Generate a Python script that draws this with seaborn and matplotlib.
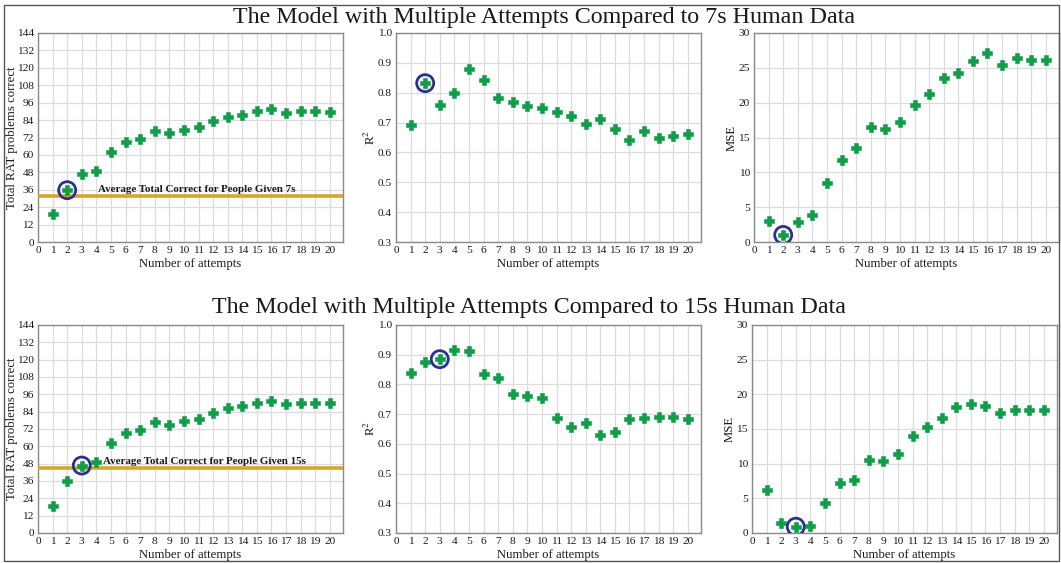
import matplotlib
matplotlib.use("Agg")
import matplotlib.pyplot as plt
import matplotlib.patches as mpatches
import pandas as pd
import seaborn as sns

# dados
attempts = list(range(1, 21))

total_correct = [19.0, 35.7, 46.7, 49.2, 62.1, 68.9, 71.0, 76.8, 74.8, 77.4,
                 79.2, 83.1, 86.2, 87.8, 90.0, 91.3, 89.2, 90.3, 90.0, 89.9]

r2_7s = [0.692, 0.832, 0.758, 0.798, 0.879, 0.844, 0.782, 0.770, 0.755, 0.748,
         0.734, 0.722, 0.695, 0.712, 0.678, 0.641, 0.672, 0.650, 0.655, 0.661]
mse_7s = [2.99, 1.01, 2.84, 3.85, 8.52, 11.75, 13.48, 16.47, 16.23, 17.29,
          19.6, 21.28, 23.59, 24.27, 25.95, 27.15, 25.42, 26.38, 26.19, 26.10]

r2_15s = [0.837, 0.876, 0.885, 0.915, 0.912, 0.834, 0.822, 0.768, 0.760, 0.753,
          0.686, 0.658, 0.670, 0.630, 0.641, 0.683, 0.688, 0.691, 0.689, 0.683]
mse_15s = [6.27, 1.44, 0.91, 1.0, 4.26, 7.27, 7.70, 10.57, 10.43, 11.39,
           13.92, 15.36, 16.65, 18.18, 18.66, 18.37, 17.32, 17.80, 17.70, 17.70]

human_avg = {"7s": 31.4, "15s": 45.3}
best_attempt = {"7s": 2, "15s": 3}

titles = ["The Model with Multiple Attempts Compared to 7s Human Data",
          "The Model with Multiple Attempts Compared to 15s Human Data"]

sns.set_style("whitegrid")
plt.rcParams['font.family'] = ['Liberation Serif', 'DejaVu Serif']
plt.rcParams['mathtext.fontset'] = 'stix'

GREEN = '#0f9d48'
NAVY = '#2b2f8f'
GOLD = '#d6a62c'
TXT = '#1a1a1a'

fig = plt.figure(figsize=(10.61, 5.63), dpi=100)
W, H = 1061, 563


def eixo(left, top, bottom, width=305):
    return fig.add_axes([left / W, 1 - bottom / H, width / W, (bottom - top) / H])


def formatar(ax, ylim, yticks, ylabel, ylab_x, xlab_dy):
    h = ax.get_position().height * H
    ax.set_xlim(0, 20.9)
    ax.set_ylim(*ylim)
    ax.set_xticks(range(0, 21))
    ax.set_yticks(yticks)
    ax.set_xlabel('Number of attempts', fontsize=9.2, va='center', color=TXT)
    ax.set_ylabel(ylabel, fontsize=9.2, va='center', color=TXT)
    ax.xaxis.set_label_coords(0.5, -xlab_dy / h)
    ax.yaxis.set_label_coords(ylab_x / 305, 0.5)
    ax.tick_params(axis='both', labelsize=8.2, length=2.5, width=0.8, color='#888888',
                   labelcolor=TXT, pad=0.5, direction='out')
    ax.grid(True, color='#dcdcdc', linewidth=0.9)
    for s in ax.spines.values():
        s.set_color('#8a8a8a')
        s.set_linewidth(1.0)


def pontos(ax, y, destaque):
    df = pd.DataFrame({'x': attempts, 'y': y})
    sns.scatterplot(data=df, x='x', y='y', ax=ax, marker='P', s=42, color=GREEN,
                    edgecolor=GREEN, linewidth=0.4, zorder=5)
    ax.scatter([destaque], [y[destaque - 1]], s=150, facecolors='none', edgecolors=NAVY,
               linewidths=2.0, zorder=6)


rows = [("7s", r2_7s, mse_7s, 33, 242, 23, 544),
        ("15s", r2_15s, mse_15s, 325, 533, 313, 529)]
for (tag, r2, mse, top, bottom, base, cx), title in zip(rows, titles):
    b = best_attempt[tag]

    ax1 = eixo(38, top, bottom)
    ax1.axhline(human_avg[tag], color=GOLD, linewidth=2.6, zorder=3)
    pontos(ax1, total_correct, b)
    ax1.text(4.1 if tag == "7s" else 4.45, human_avg[tag] + 4.5,
             f'Average Total Correct for People Given {tag}',
             fontsize=7.9, fontweight='bold', va='center', ha='left', color=TXT, zorder=7)
    formatar(ax1, (0, 144), range(0, 145, 12), 'Total RAT problems correct', -26, 22)

    ax2 = eixo(396, top, bottom)
    pontos(ax2, r2, b)
    formatar(ax2, (0.3, 1.0), [0.3, 0.4, 0.5, 0.6, 0.7, 0.8, 0.9, 1.0], 'R$^2$', -26, 22)

    ax3 = eixo(754 if tag == "7s" else 752, top, bottom)
    pontos(ax3, mse, b)
    formatar(ax3, (0, 30), range(0, 31, 5), 'MSE', -22, 22)

    fig.text(cx / W, 1 - base / H, title, fontsize=17.3, ha='center', va='baseline', color=TXT)

# moldura da figura
fig.patches.append(mpatches.Rectangle((4 / W, 1 - 561 / H), 1055 / W, 556 / H,
                                      transform=fig.transFigure, fill=False,
                                      edgecolor='#555555', linewidth=1.0))

fig.savefig('out.png', dpi=100)
